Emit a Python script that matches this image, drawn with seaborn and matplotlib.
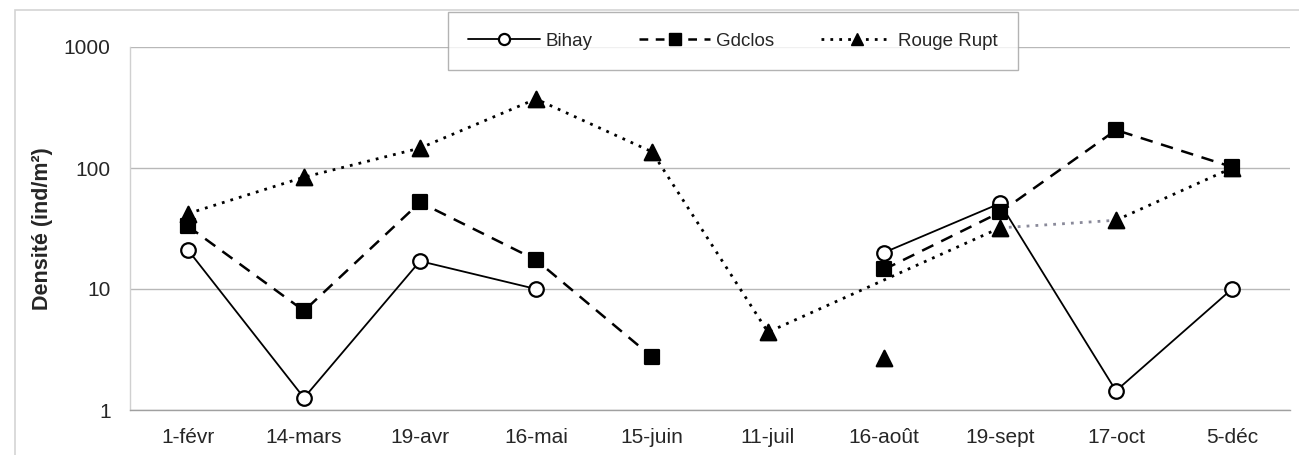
import numpy as np
import pandas as pd
import matplotlib
matplotlib.use("Agg")
import matplotlib.pyplot as plt
from matplotlib.lines import Line2D
from matplotlib.patches import Rectangle
import seaborn as sns

# ---- data ----
dates = ["1-févr", "14-mars", "19-avr", "16-mai", "15-juin",
         "11-juil", "16-août", "19-sept", "17-oct", "5-déc"]
bihay = [21, 1.26, 17, 10, np.nan, np.nan, 20, 51, 1.44, 10]
gdclos = [33, 6.6, 52, 17.4, 2.75, np.nan, 14.5, 43, 206, 102]
rouge_rupt = [42, 84, 146, 372, 136, 4.4, 2.7, 32, 37, 100]
# Rouge Rupt line joins 11-juil directly to 19-sept (16-août point left unjoined)
rouge_rupt_unjoined = ["16-août"]
# segment of the Rouge Rupt line drawn lighter in the original
rouge_rupt_light = ("19-sept", "17-oct")
yticks = [1, 10, 100, 1000]

sns.set_style("white")
plt.rcParams["font.family"] = ["Liberation Sans", "DejaVu Sans"]

fig = plt.figure(figsize=(12.99, 4.55), dpi=100)
ax = fig.add_axes([130 / 1299, 1 - 410 / 455, 1160 / 1299, 363 / 455])

pos = {d: i for i, d in enumerate(dates)}


def segments(vals):
    segs, cur = [], []
    for i, v in enumerate(vals):
        if v is None or (isinstance(v, float) and np.isnan(v)):
            if cur:
                segs.append(cur)
            cur = []
        else:
            cur.append(i)
    if cur:
        segs.append(cur)
    return segs


def draw_line(idx, vals, color, ls, lw, dashes=None):
    df = pd.DataFrame({"x": [i for i in idx], "y": [vals[i] for i in idx]})
    sns.lineplot(data=df, x="x", y="y", ax=ax, color=color, linewidth=lw,
                 estimator=None, sort=False, legend=False)
    line = ax.lines[-1]
    line.set_linestyle(ls)
    if dashes is not None:
        line.set_dashes(dashes)
    line.set_zorder(3)


def draw_markers(idx, vals, marker, face, size):
    df = pd.DataFrame({"x": idx, "y": [vals[i] for i in idx]})
    sns.scatterplot(data=df, x="x", y="y", ax=ax, marker=marker, s=size,
                    color=face, edgecolor="black", linewidth=1.6, zorder=5,
                    legend=False)


# Bihay
for seg in segments(bihay):
    if len(seg) > 1:
        draw_line(seg, bihay, "black", "-", 1.3)
draw_markers([i for i in range(len(dates)) if not np.isnan(bihay[i])], bihay, "o", "white", 110)

# Gdclos
for seg in segments(gdclos):
    if len(seg) > 1:
        draw_line(seg, gdclos, "black", "--", 1.8, dashes=(5, 3.5))
draw_markers([i for i in range(len(dates)) if not np.isnan(gdclos[i])], gdclos, "s", "black", 115)

# Rouge Rupt
rr_idx = [i for i in range(len(dates)) if dates[i] not in rouge_rupt_unjoined]
a, b = pos[rouge_rupt_light[0]], pos[rouge_rupt_light[1]]
dark1 = [i for i in rr_idx if i <= a]
dark2 = [i for i in rr_idx if i >= b]
draw_line(dark1, rouge_rupt, "black", ":", 2.0, dashes=(1, 2.2))
draw_line([a, b], rouge_rupt, "#8a8a9a", ":", 2.0, dashes=(1, 2.2))
draw_line(dark2, rouge_rupt, "black", ":", 2.0, dashes=(1, 2.2))
draw_markers(list(range(len(dates))), rouge_rupt, "^", "black", 125)

# axes
ax.set_yscale("log")
ax.set_ylim(1, 1000)
ax.set_xlim(-0.5, len(dates) - 0.5)
ax.set_yticks(yticks)
ax.set_yticklabels([str(t) for t in yticks])
ax.yaxis.set_minor_locator(matplotlib.ticker.NullLocator())
ax.set_xticks(range(len(dates)))
ax.set_xticklabels(dates)
ax.set_xticks(np.arange(-0.5, len(dates), 1.0), minor=True)
ax.tick_params(axis="x", which="major", length=0, pad=13, labelsize=15)
ax.tick_params(axis="x", which="minor", length=5, direction="inout", color="#c8c8c8", width=1)
ax.tick_params(axis="y", which="major", length=10, color="#b0b0b0", width=1, pad=4, labelsize=15)
ax.grid(axis="y", color="#b8b8b8", linewidth=1.0)
ax.set_axisbelow(True)
for s in ["top", "right"]:
    ax.spines[s].set_visible(False)
ax.spines["left"].set_color("#d0d0d0")
ax.spines["bottom"].set_color("#a0a0a0")
ax.spines["left"].set_linewidth(1)
ax.spines["bottom"].set_linewidth(1)
ax.set_xlabel("")
ax.set_ylabel("Densité (ind/m²)", fontsize=15.5, fontweight="bold", labelpad=8)

# legend
handles = [
    Line2D([], [], color="black", linestyle="-", linewidth=1.3, marker="o",
           markerfacecolor="white", markeredgecolor="black", markersize=8, markeredgewidth=1.6),
    Line2D([], [], color="black", linestyle="--", dashes=(3.5, 3), linewidth=1.8, marker="s",
           markerfacecolor="black", markeredgecolor="black", markersize=8),
    Line2D([], [], color="black", linestyle=":", dashes=(1, 2.2), linewidth=2.0, marker="^",
           markerfacecolor="black", markeredgecolor="black", markersize=8),
]
leg = fig.legend(handles, ["Bihay", "Gdclos", "Rouge Rupt"], ncol=3,
                 loc="center", bbox_to_anchor=(733 / 1299, 1 - 41 / 455),
                 frameon=True, fancybox=False, shadow=False, fontsize=13.5,
                 handlelength=3.8, handletextpad=0.3, columnspacing=2.5,
                 borderpad=1.1, borderaxespad=0)
leg.get_frame().set_edgecolor("#a0a0a0")
leg.get_frame().set_linewidth(1)

# outer chart border
fig.patches.append(Rectangle((15 / 1299, -0.05), 1.1, 1 - 10 / 455 + 0.05,
                             transform=fig.transFigure, fill=False,
                             edgecolor="#d4d4d4", linewidth=1.2, zorder=0))

fig.savefig("out.png", dpi=100)
